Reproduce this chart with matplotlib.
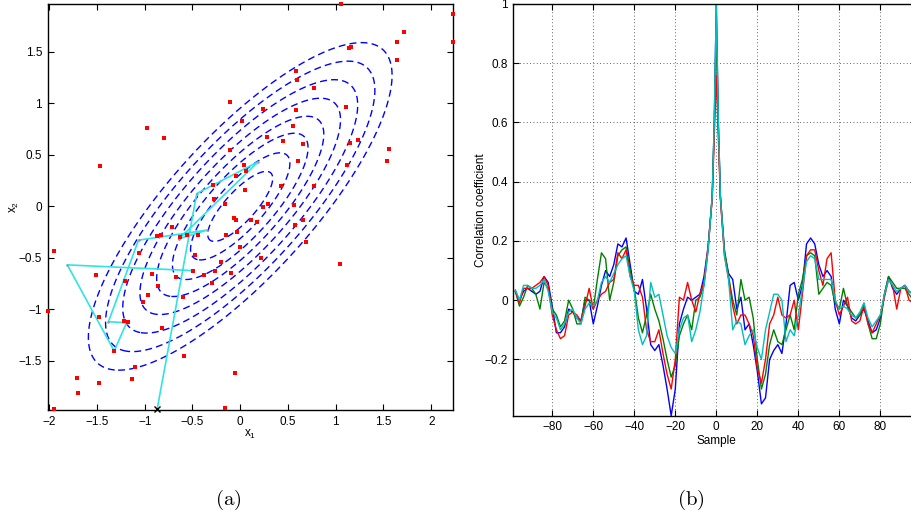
import numpy as np
import matplotlib
matplotlib.use('Agg')
import matplotlib.pyplot as plt
from matplotlib.ticker import FuncFormatter, FixedLocator

plt.rcParams['font.family'] = ['Liberation Sans', 'DejaVu Sans']
plt.rcParams['lines.dashed_pattern'] = [5.0, 3.0]

# ---------------- panel (a) data ----------------
dots_x = [-0.107, 0.016, -0.979, -0.795, -0.103, -1.468, 0.043, -0.047, 0.061, 0.047,
          -0.280, -0.271, -0.156, 1.055, 2.225, 2.225, 1.718, 1.645, 1.136, 1.163,
          1.642, 0.584, 0.598, 0.776, 1.111, 0.242, 0.581, 0.550, 0.284, 0.448,
          0.654, 1.153, 1.237, 1.555, 1.534, 0.605, 1.118, 0.427, 0.776, 0.242,
          0.288, 0.560, 0.113, 0.179, 0.661, 0.577, 0.689, 0.215, 1.045, -1.947,
          -2.016, -1.947, -1.706, -1.698, -1.482, -1.130, -1.105, -0.592, -0.054, -0.156,
          -1.513, -1.482, -1.209, -1.214, -1.175, -1.321, -1.056, -0.920, -0.858, -0.969,
          -1.018, -0.822, -0.669, -0.596, -0.497, -0.476, -0.376, -0.292, -0.267, -0.204,
          -0.099, -0.149, -0.030, -0.068, -0.047, -0.871, -0.832, -0.714, -0.630, -0.554,
          -0.439, -0.002]
dots_y = [1.017, 0.829, 0.764, 0.667, 0.548, 0.392, 0.399, 0.298, 0.340, 0.159,
          0.205, 0.072, 0.020, 1.965, 1.868, 1.596, 1.690, 1.596, 1.541, 1.545,
          1.418, 1.311, 1.224, 1.146, 0.968, 0.946, 0.933, 0.780, 0.671, 0.635,
          0.603, 0.618, 0.642, 0.554, 0.441, 0.438, 0.405, 0.201, 0.198, -0.003,
          0.023, 0.017, -0.135, -0.148, -0.129, -0.181, -0.349, -0.498, -0.559, -0.433,
          -1.016, -1.967, -1.663, -1.812, -1.718, -1.676, -1.559, -1.452, -1.621, -1.957,
          -0.663, -1.077, -0.727, -1.113, -1.125, -1.404, -0.452, -0.656, -0.770, -0.860,
          -0.931, -1.184, -0.682, -0.877, -0.624, -0.472, -0.663, -0.741, -0.630, -0.537,
          -0.644, -0.275, -0.246, -0.110, -0.135, -0.290, -0.278, -0.203, -0.297, -0.278,
          -0.274, -0.397]

path_x = [-0.870, -0.455, 0.190, -0.640, -0.345, -1.065, -1.380, -1.190, -1.320, -1.810, -0.490]
path_y = [-1.970, 0.125, 0.434, -0.315, -0.230, -0.328, -1.120, -1.130, -1.404, -0.568, -0.624]

rho = 0.8
contour_radii = [0.34, 0.52, 0.71, 0.875, 1.05, 1.23, 1.41, 1.59]

xlim_a = (-2.016, 2.225)
ylim_a = (-1.977, 1.965)
xticks_a = [-2, -1.5, -1, -0.5, 0, 0.5, 1, 1.5, 2]
yticks_a = [-1.5, -1, -0.5, 0, 0.5, 1, 1.5]

# ---------------- panel (b) data ----------------
lags = list(range(-98, -1, 2)) + [-1, 0, 1] + list(range(2, 99, 2))

corr_blue = [0.03, 0.00, 0.03, 0.04, 0.03, 0.02, 0.03, 0.08, 0.06, -0.02,
             -0.11, -0.11, -0.09, -0.03, -0.04, -0.06, -0.07, 0.00, 0.00, -0.08,
             -0.02, 0.05, 0.10, 0.08, 0.12, 0.19, 0.18, 0.21, 0.12, 0.03,
             0.02, 0.07, -0.03, -0.15, -0.17, -0.15, -0.22, -0.30, -0.39, -0.30,
             -0.08, -0.03, 0.01, 0.00, 0.01, 0.02, 0.08, 0.18, 0.35,
             0.60, 1.00, 0.60,
             0.35, 0.16, 0.09, 0.07, -0.03, 0.01, -0.10, -0.08, -0.15, -0.24,
             -0.35, -0.33, -0.20, -0.17, -0.15, -0.18, -0.08, 0.05, 0.06, 0.00,
             0.05, 0.19, 0.21, 0.19, 0.12, 0.08, 0.10, 0.08, -0.03, -0.08,
             0.00, -0.02, -0.06, -0.07, -0.05, -0.03, -0.07, -0.11, -0.10, -0.06,
             0.02, 0.08, 0.04, 0.02, 0.04, 0.05, 0.03, 0.02, 0.00]
corr_red = [0.03, -0.01, 0.04, 0.04, 0.04, 0.05, 0.06, 0.08, 0.05, -0.05,
            -0.10, -0.13, -0.12, -0.05, -0.04, -0.05, -0.07, -0.02, 0.04, -0.03,
            0.00, 0.02, 0.03, 0.06, 0.07, 0.16, 0.14, 0.17, 0.08, 0.05,
            0.05, 0.01, -0.10, -0.14, -0.14, -0.10, -0.18, -0.25, -0.30, -0.20,
            0.01, 0.00, 0.06, 0.00, -0.04, 0.02, 0.06, 0.18, 0.34,
            0.55, 0.76, 0.55,
            0.34, 0.15, 0.07, -0.02, -0.08, -0.05, -0.05, -0.08, -0.12, -0.23,
            -0.28, -0.20, -0.08, -0.05, 0.01, -0.05, -0.06, -0.05, 0.00, -0.10,
            0.02, 0.15, 0.17, 0.17, 0.10, 0.05, 0.14, 0.16, 0.00, -0.05,
            -0.02, 0.01, -0.07, -0.08, -0.07, -0.02, -0.08, -0.11, -0.08, -0.05,
            0.01, 0.07, 0.05, -0.03, 0.04, 0.05, 0.00, -0.01, 0.00]
corr_green = [0.03, -0.02, 0.01, 0.05, 0.04, 0.02, -0.03, 0.06, 0.04, -0.03,
              -0.05, -0.09, -0.07, 0.00, -0.03, -0.08, -0.08, 0.01, 0.00, -0.03,
              0.07, 0.16, 0.14, 0.00, 0.06, 0.15, 0.17, 0.18, 0.10, 0.04,
              -0.06, -0.11, -0.05, 0.02, -0.03, -0.07, -0.13, -0.20, -0.26, -0.22,
              -0.12, -0.08, -0.05, -0.10, 0.00, 0.01, 0.05, 0.17, 0.35,
              0.58, 0.93, 0.58,
              0.35, 0.17, 0.08, 0.00, -0.05, 0.07, 0.00, 0.01, -0.06, -0.20,
              -0.30, -0.25, -0.15, -0.10, -0.14, -0.15, -0.10, -0.05, -0.10, 0.02,
              0.07, 0.15, 0.16, 0.15, 0.02, 0.04, 0.06, 0.05, -0.01, -0.03,
              0.04, -0.02, -0.04, -0.06, -0.05, -0.01, -0.08, -0.13, -0.13, -0.08,
              0.02, 0.08, 0.06, 0.04, 0.04, 0.04, 0.02, 0.00, 0.00]
corr_cyan = [0.035, 0.00, 0.05, 0.05, 0.04, 0.04, 0.05, 0.07, 0.03, -0.04,
             -0.06, -0.10, -0.08, -0.04, -0.03, -0.06, -0.08, -0.03, -0.01, -0.02,
             0.00, 0.06, 0.08, 0.06, 0.09, 0.12, 0.14, 0.15, 0.08, 0.03,
             -0.10, -0.15, -0.12, 0.06, 0.01, 0.02, -0.05, -0.12, -0.16, -0.18,
             -0.10, -0.06, -0.05, -0.14, -0.10, -0.04, 0.05, 0.17, 0.35,
             0.60, 1.00, 0.60,
             0.35, 0.15, 0.07, -0.10, -0.07, -0.08, -0.15, -0.12, -0.10, -0.16,
             -0.20, -0.10, -0.04, 0.02, 0.02, 0.00, -0.14, -0.10, -0.12, -0.05,
             0.04, 0.13, 0.15, 0.14, 0.07, 0.07, 0.07, 0.07, 0.00, -0.03,
             -0.02, -0.03, -0.05, -0.06, -0.04, -0.01, -0.06, -0.09, -0.07, -0.05,
             0.02, 0.07, 0.05, 0.03, 0.04, 0.05, 0.03, 0.02, 0.00]

xlim_b = (-99, 99)
ylim_b = (-0.39, 1.0)
xticks_b = [-80, -60, -40, -20, 0, 20, 40, 60, 80]
yticks_b = [-0.2, 0, 0.2, 0.4, 0.6, 0.8, 1]


def fmt(v, pos):
    s = '%g' % v
    if s == '-0':
        s = '0'
    return s.replace('-', '\u2212')


W, H = 912, 525
FS = 8.5
fig = plt.figure(figsize=(W / 100, H / 100), dpi=100)

# ---------------- panel (a) ----------------
axa = fig.add_axes([47.7 / W, (H - 410) / H, 405 / W, 406 / H])
gx = np.linspace(-2.1, 2.3, 600)
gy = np.linspace(-2.1, 2.1, 600)
GX, GY = np.meshgrid(gx, gy)
Q = (GX ** 2 - 2 * rho * GX * GY + GY ** 2) / (1 - rho ** 2)
axa.contour(GX, GY, Q, levels=[r ** 2 for r in contour_radii],
            colors=[(0, 0, 1)], linestyles='dashed', linewidths=1.0)
axa.plot(path_x, path_y, '-', color='#30e4e4', lw=1.2, zorder=3)
axa.plot(path_x[1:], path_y[1:], 'o', color='#9a9a9a', ms=1.8, mec='none', zorder=4)
axa.plot(dots_x, dots_y, 's', color='red', ms=2.3, mew=0, zorder=5, clip_on=False)
axa.plot([path_x[0]], [path_y[0]], 'x', color='k', ms=4.5, mew=1.0, zorder=6, clip_on=False)
axa.set_xlim(*xlim_a)
axa.set_ylim(*ylim_a)
axa.xaxis.set_major_locator(FixedLocator(xticks_a))
axa.yaxis.set_major_locator(FixedLocator(yticks_a))
axa.xaxis.set_major_formatter(FuncFormatter(fmt))
axa.yaxis.set_major_formatter(FuncFormatter(fmt))
axa.tick_params(direction='in', length=4, width=0.8, top=True, right=True, labelsize=FS, pad=4)
for sp in axa.spines.values():
    sp.set_linewidth(1.0)
axa.set_xlabel('x$_{\\mathregular{1}}$', fontsize=FS)
axa.set_ylabel('x$_{\\mathregular{2}}$', fontsize=FS)
axa.xaxis.set_label_coords(0.5, -0.045)
axa.yaxis.set_label_coords(-0.066, 0.5)

# ---------------- panel (b) ----------------
axb = fig.add_axes([513.3 / W, (H - 415.7) / H, 406 / W, 411.7 / H])
axb.plot(lags, corr_blue, color=(0, 0, 1), lw=1.0)
axb.plot(lags, corr_green, color=(0, 0.5, 0), lw=1.0)
axb.plot(lags, corr_red, color=(1, 0, 0), lw=1.0)
axb.plot(lags, corr_cyan, color=(0, 0.75, 0.75), lw=1.0)
axb.set_xlim(*xlim_b)
axb.set_ylim(*ylim_b)
axb.xaxis.set_major_locator(FixedLocator(xticks_b))
axb.yaxis.set_major_locator(FixedLocator(yticks_b))
axb.xaxis.set_major_formatter(FuncFormatter(fmt))
axb.yaxis.set_major_formatter(FuncFormatter(fmt))
axb.grid(True, color='k', linestyle=(0, (1, 3)), lw=0.6, alpha=0.8)
axb.tick_params(direction='in', length=4, width=0.8, top=True, right=True, labelsize=FS, pad=4)
for sp in axb.spines.values():
    sp.set_linewidth(1.0)
axb.set_xlabel('Sample', fontsize=FS)
axb.set_ylabel('Correlation coefficient', fontsize=FS)
axb.xaxis.set_label_coords(0.5, -0.048)
axb.yaxis.set_label_coords(-0.064, 0.5)

# captions
fig.text(228 / W, 1 - 500 / H, r'$\mathrm{(a)}$', math_fontfamily='cm', fontsize=15,
         ha='center', va='center')
fig.text(691 / W, 1 - 500 / H, r'$\mathrm{(b)}$', math_fontfamily='cm', fontsize=15,
         ha='center', va='center')

fig.savefig('out.png', dpi=100)
